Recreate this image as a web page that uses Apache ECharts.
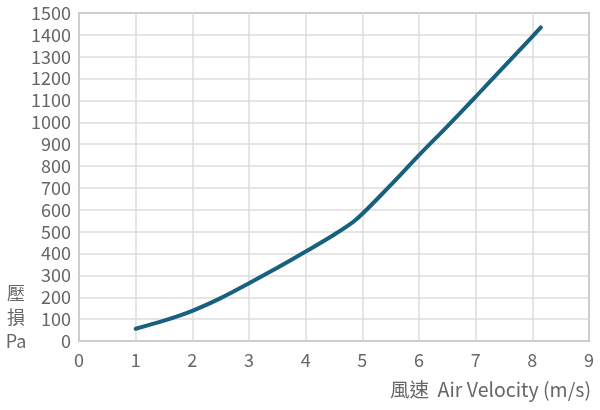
<!DOCTYPE html>
<html>
<head>
<meta charset="utf-8">
<script src="https://cdn.jsdelivr.net/npm/echarts@6/dist/echarts.min.js"></script>
<style>html,body{margin:0;padding:0;background:#fff}#c{width:600px;height:410px}</style>
</head>
<body>
<div id="c"></div>
<script>
const velocity = [1.0, 1.5, 2.0, 2.5, 3.0, 3.5, 4.0, 4.5, 4.88, 5.5, 6.0, 6.5, 7.0, 7.5, 8.0, 8.15];
const pressure = [56, 93, 138, 196, 264, 335, 409, 486, 553, 713, 850, 982, 1117, 1255, 1392, 1434];
const xTicks = {min: 0, max: 9, step: 1};
const yTicks = {min: 0, max: 1500, step: 100};
const yName = "壓\n損\nPa";
const xName = "風速  Air Velocity (m/s)";

const font = '"Noto Sans CJK TC", "Noto Sans", sans-serif';
const textColor = '#666666';
const chart = echarts.init(document.getElementById('c'), null, {renderer: 'canvas'});
chart.setOption({
  animation: false,
  grid: {left: 79, right: 11, top: 13, bottom: 69, show: true, borderColor: '#808080', borderWidth: 1.5, containLabel: false},
  xAxis: {
    type: 'value', min: xTicks.min, max: xTicks.max, interval: xTicks.step,
    axisLine: {show: false}, axisTick: {show: false},
    axisLabel: {color: textColor, fontSize: 18, fontFamily: font, margin: 10, formatter: v => String(v)},
    splitLine: {show: true, lineStyle: {color: '#dcdcdc', width: 1.5}}
  },
  yAxis: {
    type: 'value', min: yTicks.min, max: yTicks.max, interval: yTicks.step,
    axisLine: {show: false}, axisTick: {show: false},
    axisLabel: {color: textColor, fontSize: 18, fontFamily: font, margin: 8, formatter: v => String(v)},
    splitLine: {show: true, lineStyle: {color: '#dcdcdc', width: 1.5}}
  },
  graphic: [
    {type: 'text', x: 16, y: 281, style: {text: yName, fill: textColor, font: '18px ' + font, lineHeight: 24, align: 'center', verticalAlign: 'top'}},
    {type: 'text', x: 591, y: 390, style: {text: xName, fill: textColor, font: '19.5px ' + font, align: 'right', verticalAlign: 'middle'}}
  ],
  series: [{
    type: 'line', data: velocity.map((v, i) => [v, pressure[i]]),
    smooth: 0.3, showSymbol: false,
    lineStyle: {color: '#17607e', width: 4, cap: 'round'}
  }]
});
</script>
</body>
</html>
